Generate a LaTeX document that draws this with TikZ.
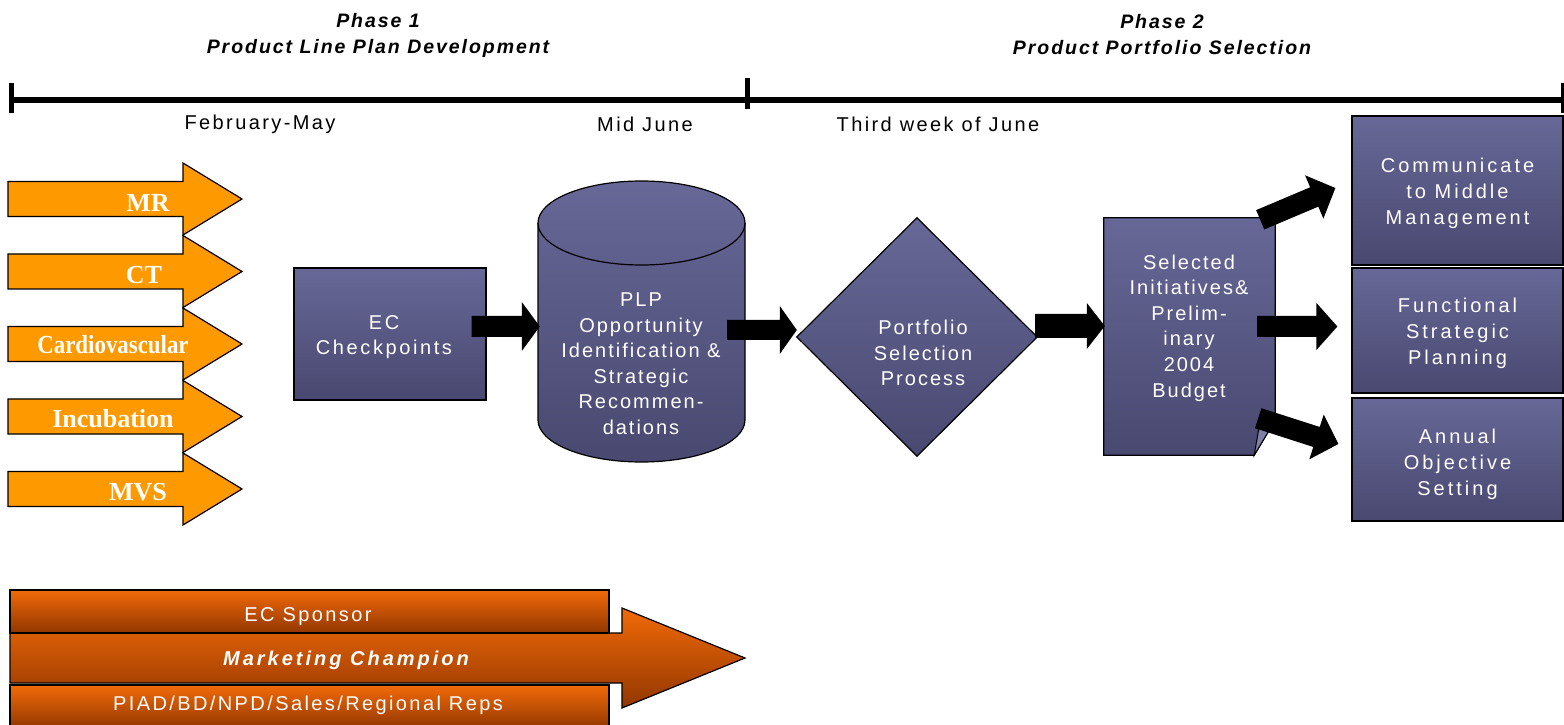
\documentclass[tikz,border=0pt]{standalone}
\usepackage{fontspec}
\usepackage{graphicx}
\setmainfont{Liberation Sans}
\newfontfamily\lsA[LetterSpace=10]{Liberation Sans}
\newfontfamily\lsB[LetterSpace=12]{Liberation Sans}
\newfontfamily\lsC[LetterSpace=15]{Liberation Sans}
\newfontfamily\lsD[LetterSpace=13]{Liberation Sans}
\newfontfamily\phfont[LetterSpace=10]{Liberation Sans}
\newfontfamily\serifb{Liberation Serif}
\usetikzlibrary{calc}
\definecolor{bluetop}{RGB}{104,104,152}
\definecolor{bluebot}{RGB}{72,72,112}
\definecolor{orA}{RGB}{255,153,0}
\definecolor{ortop}{RGB}{242,106,8}
\definecolor{orbot}{RGB}{145,54,0}
\newcommand\blkarrow[5]{%
  \path (#1) coordinate (bs) (#2) coordinate (be);
  \path ($(be)!#5!(bs)$) coordinate (bh);
  \fill[black] ($(bs)!#3!90:(be)$) -- ($(bh)!#3!-90:(bs)$) -- ($(bh)!#4!-90:(bs)$) -- (be)
     -- ($(bh)!#4!90:(bs)$) -- ($(bh)!#3!90:(bs)$) -- ($(bs)!#3!-90:(be)$) -- cycle;}
\tikzset{
  bluebox/.style={draw=black, line width=1.2pt, top color=bluetop, bottom color=bluebot, inner sep=0pt},
  wtxt/.style={text=white, align=center, inner sep=0pt},
  orarrow/.style={draw=black, line width=1.2pt, fill=orA},
  orbar/.style={draw=black, line width=1.2pt, top color=ortop, bottom color=orbot},
  lbl/.style={text=white, inner sep=0pt, font=\serifb\bfseries\fontsize{26}{30}\selectfont},
  phase/.style={align=center, inner sep=0pt, font={\phfont\fontsize{19.5}{26}\selectfont\bfseries\itshape}},
  tl/.style={inner sep=0pt, font={\lsB\fontsize{20}{24}\selectfont}},
}
\begin{document}
\begin{tikzpicture}[x=1pt,y=1pt]
\useasboundingbox (0,0) rectangle (1564,724);
% phase titles
\node[phase] (ph1) at (378,689) {Phase 1\\Product Line Plan Development};
\node[phase] (ph2) at (1162,689) {Phase 2\\Product Portfolio Selection};
% timeline
\draw[line width=6pt] (10,624) -- (1563,624);
\draw[line width=5pt] (11,641) -- (11,611);
\draw[line width=5pt] (747,646) -- (747,615);
\draw[line width=3pt] (1562,641) -- (1562,611);
\node[tl] (t1) at (260,600) {February-May};
\node[tl] (t2) at (645,600) {Mid June};
\node[tl] (t3) at (938,600) {Third week of June};
% left orange arrows
\foreach \cy in {525,452.5,380,307.5,235} {
  \draw[orarrow] (8,\cy+17.5) -- (183,\cy+17.5) -- (183,\cy+36) -- (242,\cy) -- (183,\cy-36) -- (183,\cy-17.5) -- (8,\cy-17.5) -- cycle;
}
\node[lbl] (mr) at (148,521) {MR};
\node[lbl] (ct) at (144,449) {CT};
\node[lbl] (cv) at (113,379) {\scalebox{0.88}[1]{Cardiovascular}};
\node[lbl] (inc) at (113,305) {Incubation};
\node[lbl] (mvs) at (138,232) {MVS};
% EC checkpoints
\node[bluebox, minimum width=192pt, minimum height=132pt] (ec) at (390,390) {};
\node[wtxt, font={\lsD\fontsize{20}{25.5}\selectfont}] (ect) at (384,387) {EC\\Checkpoints};
% cylinder
\node[inner sep=0pt, minimum width=207pt, minimum height=281pt] (cyl) at (641.5,402.5) {};
\shade[top color=bluetop, bottom color=bluebot, draw=black, line width=1.2pt]
  (538,501) -- (538,304) arc[start angle=180, end angle=360, x radius=103.5pt, y radius=42pt]
  -- (745,501) arc[start angle=0, end angle=180, x radius=103.5pt, y radius=42pt] -- cycle;
\draw[line width=1.2pt] (538,501) arc[start angle=180, end angle=360, x radius=103.5pt, y radius=42pt];
\node[wtxt, font={\lsA\fontsize{20}{25.5}\selectfont}] (cylt) at (641,360.5) {PLP\\Opportunity\\Identification \&\\Strategic\\Recommen-\\dations};
% diamond
\node[inner sep=0pt, minimum width=240pt, minimum height=238pt] (dia) at (917,387) {};
\shade[top color=bluetop, bottom color=bluebot, draw=black, line width=1.2pt]
  (dia.west) -- (dia.north) -- (dia.east) -- (dia.south) -- cycle;
\node[wtxt, font={\lsA\fontsize{20}{25.5}\selectfont}] (diat) at (923,371) {Portfolio\\Selection\\Process};
% document
\node[inner sep=0pt, minimum width=171pt, minimum height=237pt] (doc) at (1189.5,387.5) {};
\shade[top color=bluetop, bottom color=bluebot, draw=black, line width=1.2pt]
  (doc.north west) -- (doc.north east) -- ([yshift=35pt]doc.south east) -- ([xshift=-21pt]doc.south east) -- (doc.south west) -- cycle;
\filldraw[fill=bluetop!85!white, draw=black, line width=1pt]
  ([yshift=35pt]doc.south east) -- ([xshift=-16pt,yshift=29pt]doc.south east) -- ([xshift=-21pt]doc.south east) -- cycle;
\node[wtxt, font={\lsA\fontsize{20}{25.6}\selectfont}] (doct) at (1189,396) {Selected\\Initiatives\&\\Prelim-\\inary\\2004\\Budget};
% right boxes
\node[bluebox, minimum width=211pt, minimum height=149pt] (b1) at (1457.5,533.5) {};
\node[wtxt, font={\lsC\fontsize{20}{26}\selectfont}] (b1t) at (1457.5,531) {Communicate\\to Middle\\Management};
\node[bluebox, minimum width=211pt, minimum height=125pt] (b2) at (1457.5,393.5) {};
\node[wtxt, font={\lsC\fontsize{20}{26}\selectfont}] (b2t) at (1457.5,391) {Functional\\Strategic\\Planning};
\node[bluebox, minimum width=211pt, minimum height=123pt] (b3) at (1457.5,264.5) {};
\node[wtxt, font={\lsC\fontsize{20}{26}\selectfont}] (b3t) at (1457.5,260) {Annual\\Objective\\Setting};
% black block arrows
\blkarrow{[xshift=-15pt,yshift=7.5pt]ec.east}{[xshift=2pt,yshift=-5pt]cyl.west}{10.5pt}{24.5pt}{18pt}
\blkarrow{[xshift=-18pt,yshift=-8.5pt]cyl.east}{[yshift=7pt]dia.west}{10pt}{24pt}{17pt}
\blkarrow{[xshift=-2pt,yshift=11pt]dia.east}{[xshift=1pt,yshift=10.5pt]doc.west}{12pt}{23pt}{18pt}
\blkarrow{[xshift=-18pt,yshift=10pt]doc.east}{[xshift=-14pt,yshift=4pt]b2.west}{10.5pt}{23.5pt}{21pt}
\blkarrow{[xshift=-15pt,yshift=-2pt]doc.north east}{[xshift=-16pt,yshift=2.5pt]b1.west}{10.5pt}{23.5pt}{23pt}
\blkarrow{[xshift=-17pt,yshift=37pt]doc.south east}{[xshift=-13pt,yshift=15.5pt]b3.west}{10.5pt}{23.5pt}{23pt}
% bottom bars
\shade[orbar] (10,91) -- (622,91) -- (622,116) -- (745,66) -- (622,16) -- (622,41) -- (10,41) -- cycle;
\node[wtxt, font={\lsC\fontsize{20}{24}\selectfont\bfseries\itshape}] (mc) at (346,64) {Marketing Champion};
\shade[orbar] (10,134) rectangle (609,91);
\node[wtxt, font={\lsB\fontsize{20}{24}\selectfont}] (ecs) at (308,107) {EC Sponsor};
\shade[orbar] (10,39) rectangle (609,-5);
\node[wtxt, font={\lsB\fontsize{20}{24}\selectfont}] (piad) at (308,19) {PIAD/BD/NPD/Sales/Regional Reps};
\end{tikzpicture}
\end{document}
